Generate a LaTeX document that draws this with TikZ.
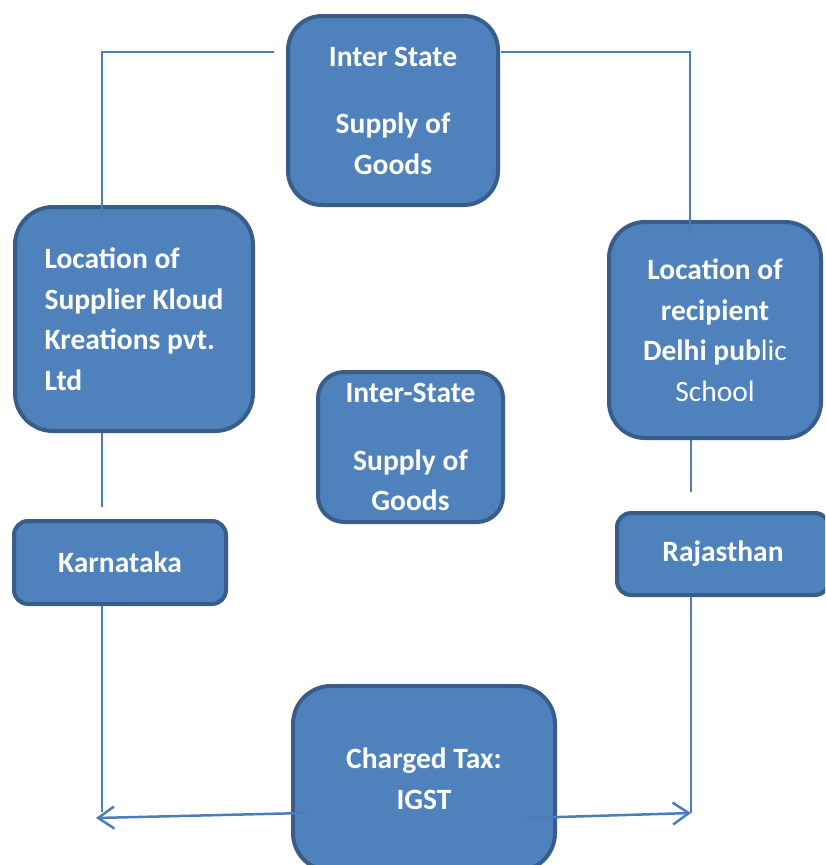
\documentclass[tikz,border=0pt]{standalone}
\usepackage{fontspec}
\setmainfont{Carlito}
\usetikzlibrary{arrows.meta}
\definecolor{boxfill}{HTML}{4F81BD}
\definecolor{boxline}{HTML}{385D8A}
\definecolor{conn}{HTML}{4A7EBB}
\begin{document}
\begin{tikzpicture}[x=1pt,y=-1pt,
  box/.style={draw=boxline, line width=4pt, fill=boxfill, text=white,
    font=\fontsize{29.5}{40.5}\selectfont\bfseries, align=center, inner sep=0pt,
    rounded corners=#1},
  box/.default=34pt,
  connline/.style={draw=conn, line width=1.5pt},
  arrline/.style={draw=conn, line width=2.5pt, -{Straight Barb[length=16pt,width=22pt,line width=2.5pt]}}]
\useasboundingbox (0,0) rectangle (825,865);
\clip (0,0) rectangle (825,865);
\node[box=34pt, minimum width=210pt, minimum height=189pt] (top) at (393,110.5)
  {Inter State\\[27pt]Supply of\\Goods};
\node[box=38pt, minimum width=238pt, minimum height=224pt, align=left] (lft) at (134,319)
  {Location of\\Supplier Kloud\\Kreations pvt.\\Ltd};
\node[box=36pt, minimum width=212pt, minimum height=216pt] (rgt) at (715,330)
  {Location of\\recipient\\Delhi pub{\mdseries lic}\\{\mdseries School}};
\node[box=26pt, minimum width=185pt, minimum height=150pt] (mid) at (410.5,447)
  {Inter-State\\[27pt]Supply of\\Goods};
\node[box=14pt, minimum width=212pt, minimum height=83pt] (kar) at (120,562.5) {Karnataka};
\node[box=14pt, minimum width=212pt, minimum height=82pt] (raj) at (723,554) {Rajasthan};
\node[box=38pt, minimum width=262pt, minimum height=185pt] (tax) at (424,778.5)
  {Charged Tax:\\IGST};
% connectors
\coordinate (c1) at (274,52);
\coordinate (c2) at (102,52);
\coordinate (c3) at (102,221);
\coordinate (c4) at (501,52);
\coordinate (c5) at (690,52);
\coordinate (c6) at (690,237);
\coordinate (c7) at (102,507);
\coordinate (c8) at (691,492);
\coordinate (c9) at (102,812);
\coordinate (c10) at (691,813);
\coordinate (c11) at (305,813);
\coordinate (c12) at (96,818);
\coordinate (c13) at (526,818);
\coordinate (c14) at (691,813);
\draw[connline] (c1) -- (c2) -- (c3);
\draw[connline] (c4) -- (c5) -- (c6);
\draw[connline] (lft.south -| c2) -- (c7);
\draw[connline] (rgt.south -| c8) -- (c8);
\draw[connline] (kar.south -| c9) -- (c9);
\draw[connline] (raj.south -| c10) -- (c10);
\draw[arrline] (c11) -- (c12);
\draw[arrline] (c13) -- (c14);
\end{tikzpicture}
\end{document}
